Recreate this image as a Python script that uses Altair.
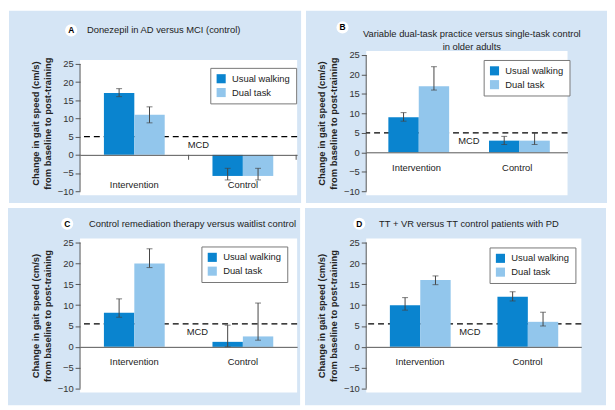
import altair as alt
import pandas as pd

# ---------------- data ----------------
categories = ["Intervention", "Control"]
series = ["Usual walking", "Dual task"]
y_ticks = [-10, -5, 0, 5, 10, 15, 20, 25]
y_title = ["Change in gait speed (cm/s)", "from baseline to post-training"]

a_title = ["Donezepil in AD versus MCI (control)"]
a_usual = [17.0, -5.8]
a_usual_lo = [16.0, -6.9]
a_usual_hi = [18.2, -3.7]
a_dual = [11.0, -5.8]
a_dual_lo = [8.8, -6.9]
a_dual_hi = [13.2, -3.7]
a_mcd = 5.0

b_title = ["Variable dual-task practice versus single-task control", "in older adults"]
b_usual = [9.0, 3.0]
b_usual_lo = [8.0, 2.0]
b_usual_hi = [10.2, 4.1]
b_dual = [17.0, 3.0]
b_dual_lo = [16.0, 2.0]
b_dual_hi = [22.0, 5.0]
b_mcd = 5.0

c_title = ["Control remediation therapy versus waitlist control"]
c_usual = [8.2, 1.2]
c_usual_lo = [7.1, 0.0]
c_usual_hi = [11.5, 5.2]
c_dual = [20.0, 2.5]
c_dual_lo = [19.0, 1.6]
c_dual_hi = [23.5, 10.5]
c_mcd = 5.5

d_title = ["TT + VR versus TT control patients with PD"]
d_usual = [10.0, 12.0]
d_usual_lo = [8.8, 11.0]
d_usual_hi = [11.8, 13.2]
d_dual = [16.0, 6.0]
d_dual_lo = [14.9, 5.0]
d_dual_hi = [17.0, 8.3]
d_mcd = 5.5

# ---------------- style ----------------
FONT = "Liberation Sans"
DARK = "#0a84cf"
LIGHT = "#92c6ec"
PANEL_BG = "#d5e5f5"
ERR = "#444444"
AX = "#555555"
TXT = "#222222"
FS = 9.5
Y_MIN, Y_MAX = -10, 25

Y_AXIS = alt.Axis(values=y_ticks, tickCount=8, grid=False, domain=False, tickSize=5, tickColor=AX,
                  labelFontSize=FS, labelColor="#333333", labelPadding=2, labelOverlap=False,
                  titleFontSize=FS, titleFontWeight="bold", titleColor=TXT,
                  titlePadding=5, titleLineHeight=12, zindex=1)


def panel(letter, title_lines, usual, usual_lo, usual_hi, dual, dual_lo, dual_hi, mcd, g):
    W, H, ext = g["w"], g["h"], g["ext"]          # H: height of the -10..25 range, ext: extra px above
    HT = H + ext
    unit = H / (Y_MAX - Y_MIN)
    y_top = Y_MAX + ext / unit
    y_scale = alt.Scale(domain=[Y_MIN, y_top], nice=False, zero=False)

    rows = []
    for s, m, lo, hi in [(series[0], usual, usual_lo, usual_hi), (series[1], dual, dual_lo, dual_hi)]:
        for c, v, l, h in zip(categories, m, lo, hi):
            rows.append({"cat": c, "series": s, "mean": v, "lo": l, "hi": h})
    df = pd.DataFrame(rows)
    one = pd.DataFrame({"k": [0]})
    base = alt.Chart(df)

    x_axis = alt.Axis(orient="bottom", offset=-H * 10 / 35, ticks=False, tickSize=0,
                      domainColor=AX, domainWidth=1, labelPadding=g["lp"], labelAngle=0,
                      labelFontSize=FS, labelColor=TXT, zindex=1)
    x_scale = alt.Scale(paddingInner=0.44, paddingOuter=0.22)
    x_enc = alt.X("cat:N", sort=categories, title=None, scale=x_scale, axis=x_axis)
    xo_enc = alt.XOffset("series:N", sort=series,
                         scale=alt.Scale(paddingInner=0, paddingOuter=0))

    def yq(field):
        return alt.Y(field, title=y_title, scale=y_scale, axis=Y_AXIS)

    bg = alt.Chart(one).mark_rect(color=PANEL_BG).encode(
        x=alt.value(g["bx0"]), x2=alt.value(W + g["bx1"]),
        y=alt.value(-45 if g["row"] == 1 else -35), y2=alt.value(HT + g["by1"]))
    white = alt.Chart(one).mark_rect(color="white").encode(
        x=alt.value(0), x2=alt.value(W), y=alt.value(ext - 4), y2=alt.value(HT + 4))
    y_line = alt.Chart(one).mark_rule(color=AX, strokeWidth=1).encode(
        x=alt.value(0), y=alt.datum(Y_MIN), y2=alt.datum(Y_MAX))
    mcd_rule = alt.Chart(one).mark_rule(color="black", strokeDash=[6, 4], strokeWidth=1.3).encode(
        y=alt.datum(mcd))
    bars = base.mark_bar().encode(
        x=x_enc, xOffset=xo_enc, y=yq("mean:Q"),
        color=alt.Color("series:N", sort=series,
                        scale=alt.Scale(domain=series, range=[DARK, LIGHT]),
                        legend=alt.Legend(title=None, orient="none", legendX=g["lx"], legendY=g["ly"] + ext,
                                          fillColor="white", strokeColor="#777777", padding=6,
                                          symbolType="square", symbolSize=85, symbolStrokeWidth=0,
                                          labelFontSize=FS, labelColor=TXT, rowPadding=4,
                                          labelOffset=6)))
    err = base.mark_rule(color=ERR, strokeWidth=1).encode(
        x=x_enc, xOffset=xo_enc, y=yq("lo:Q"), y2="hi:Q")
    cap_lo = base.mark_tick(color=ERR, thickness=1, size=6).encode(
        x=x_enc, xOffset=xo_enc, y=yq("lo:Q"))
    cap_hi = base.mark_tick(color=ERR, thickness=1, size=6).encode(
        x=x_enc, xOffset=xo_enc, y=yq("hi:Q"))
    mcd_text = alt.Chart(one).mark_text(text="MCD", fontSize=FS, color=TXT, dy=8,
                                        baseline="middle", align="center").encode(
        x=alt.value(W / 2 + g["mdx"]), y=alt.datum(mcd))
    badge = alt.Chart(one).mark_point(shape="circle", filled=True, color="white", opacity=1,
                                      size=150, strokeWidth=0).encode(
        x=alt.value(g["cx"]), y=alt.value(g["cy"] + ext))
    badge_txt = alt.Chart(one).mark_text(text=letter, fontSize=8.5, fontWeight="bold", color="black",
                                         baseline="middle", align="center").encode(
        x=alt.value(g["cx"]), y=alt.value(g["cy"] + ext))
    title = alt.Chart(one).mark_text(text=title_lines, fontSize=FS, color=TXT, baseline="middle",
                                     align=g["talign"], lineHeight=13).encode(
        x=alt.value(g["tx"]), y=alt.value(g["ty"] + ext))

    layers = [bg, white, y_line, mcd_rule, bars, err, cap_lo, cap_hi, mcd_text,
              badge, badge_txt, title]
    if g.get("xticks"):
        for xv in (W / 2, W - 1):
            layers.append(alt.Chart(one).mark_rule(color=AX, strokeWidth=1).encode(
                x=alt.value(xv), y=alt.datum(0), y2=alt.datum(-5 / unit)))
    return alt.layer(*layers).properties(width=W, height=HT)


geom_a = dict(row=1, w=220, h=129, ext=9, bx0=-72, bx1=4, by1=12, lx=132, ly=4, lp=25, mdx=10,
              cx=-9, cy=-34, tx=7, ty=-34, talign="left", xticks=True)
geom_b = dict(row=1, w=204, h=138, ext=0, bx0=-61, bx1=40, by1=12, lx=119, ly=5, lp=10, mdx=2,
              cx=-24, cy=-28, tx=107, ty=-21.5, talign="center")
geom_c = dict(row=2, w=220, h=148, ext=0, bx0=-73, bx1=3, by1=17, lx=123, ly=4, lp=10, mdx=9,
              cx=-13, cy=-19, tx=9, ty=-19, talign="left")
geom_d = dict(row=2, w=218, h=148, ext=0, bx0=-62, bx1=25, by1=17, lx=125, ly=5, lp=10, mdx=-4,
              cx=-7, cy=-19, tx=13, ty=-19, talign="left")

pa = panel("A", a_title, a_usual, a_usual_lo, a_usual_hi, a_dual, a_dual_lo, a_dual_hi, a_mcd, geom_a)
pb = panel("B", b_title, b_usual, b_usual_lo, b_usual_hi, b_dual, b_dual_lo, b_dual_hi, b_mcd, geom_b)
pc = panel("C", c_title, c_usual, c_usual_lo, c_usual_hi, c_dual, c_dual_lo, c_dual_hi, c_mcd, geom_c)
pd_ = panel("D", d_title, d_usual, d_usual_lo, d_usual_hi, d_dual, d_dual_lo, d_dual_hi, d_mcd, geom_d)

row1 = alt.hconcat(pa, pb, spacing=5).resolve_scale(color="independent", x="independent", y="independent")
row2 = alt.hconcat(pc, pd_, spacing=5).resolve_scale(color="independent", x="independent", y="independent")
chart = alt.vconcat(row1, row2, spacing=5).resolve_scale(
    color="independent", x="independent", y="independent"
).configure(font=FONT, background="white", padding=0).configure_view(stroke=None)

chart.save("out.html", embed_options={"renderer": "svg", "actions": False})
